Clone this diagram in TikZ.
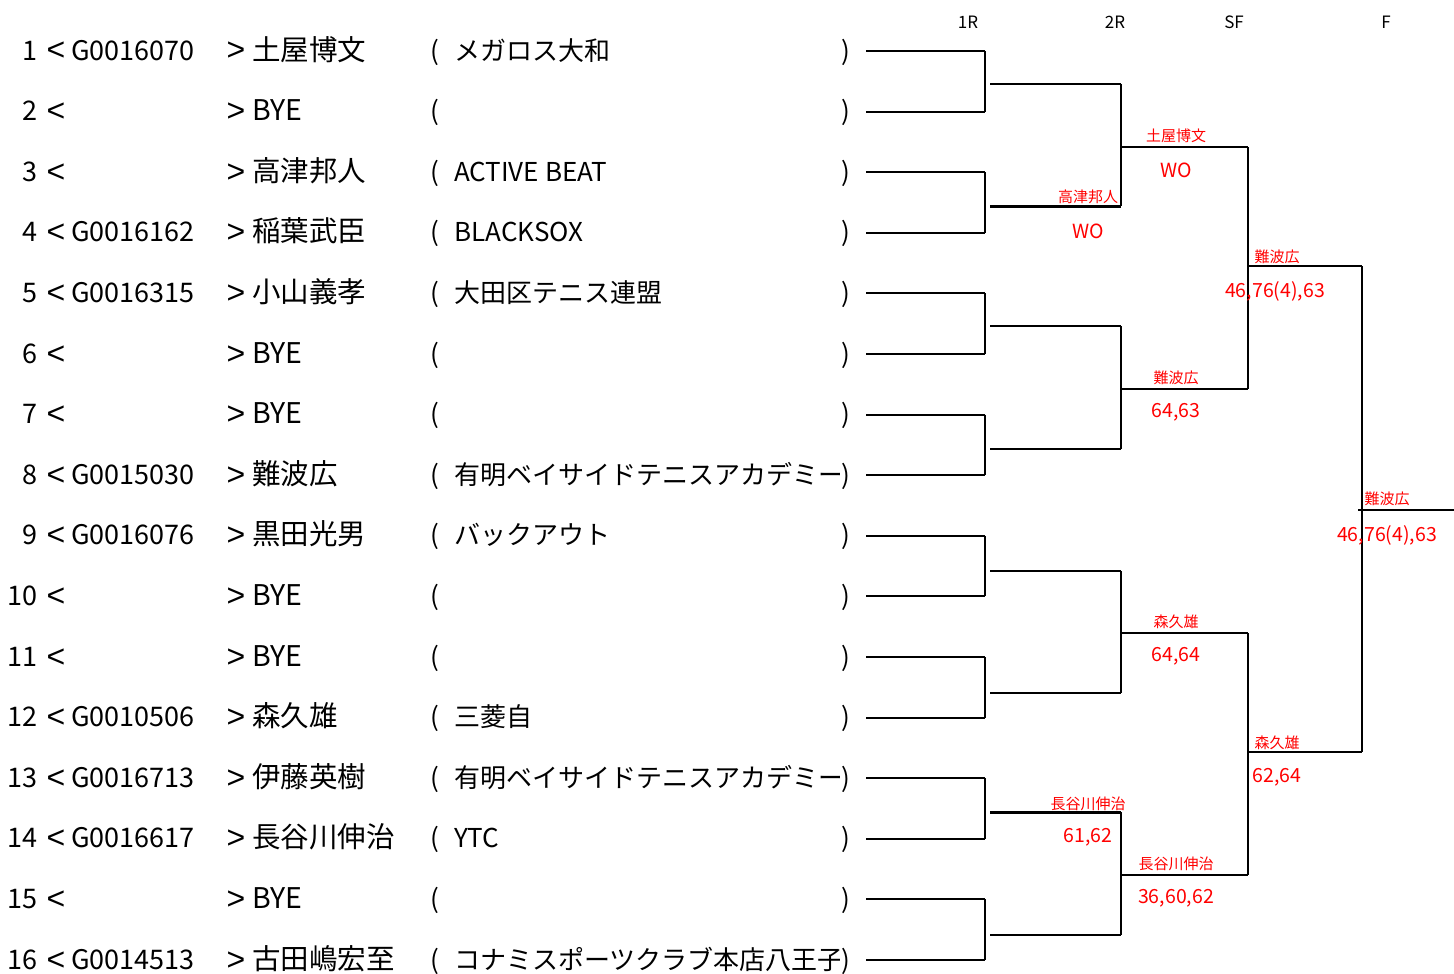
\documentclass[tikz,border=0pt]{standalone}
\usepackage{fontspec}
\setmainfont{Noto Sans CJK JP}
\newfontfamily\arialfont{Liberation Sans}

\tikzset{
entry/.style={inner sep=0pt,text depth=0pt,font=\fontsize{27}{27}\selectfont},
angle/.style={inner sep=0pt,text depth=0pt,font=\arialfont\fontsize{32}{32}\selectfont},
player/.style={inner sep=0pt,text depth=0pt,font=\fontsize{28.5}{28}\selectfont},
club/.style={inner sep=0pt,text depth=0pt,font=\fontsize{26}{26}\selectfont},
head/.style={inner sep=0pt,font=\fontsize{17}{17}\selectfont},
winner/.style={inner sep=0pt,red,font=\fontsize{15}{15}\selectfont},
score/.style={inner sep=0pt,red,font=\fontsize{19.5}{19}\selectfont},
line/.style={line width=2pt},
}

\begin{document}
\begin{tikzpicture}[x=1pt,y=-1pt]
\useasboundingbox (0,0) rectangle (1454,974);

\node[head] (h1) at (968,22) {1R};
\node[head] (h2) at (1115,22) {2R};
\node[head] (h3) at (1234,22) {SF};
\node[head] (h4) at (1386,22) {F};

\foreach \i/\id/\name/\club in {1/G0016070/土屋博文/メガロス大和,2/{}/BYE/{},3/{}/高津邦人/ACTIVE BEAT,4/G0016162/稲葉武臣/BLACKSOX,5/G0016315/小山義孝/大田区テニス連盟,6/{}/BYE/{},7/{}/BYE/{},8/G0015030/難波広/有明ベイサイドテニスアカデミー,9/G0016076/黒田光男/バックアウト,10/{}/BYE/{},11/{}/BYE/{},12/G0010506/森久雄/三菱自,13/G0016713/伊藤英樹/有明ベイサイドテニスアカデミー,14/G0016617/長谷川伸治/YTC,15/{}/BYE/{},16/G0014513/古田嶋宏至/コナミスポーツクラブ本店八王子}
{
\pgfmathsetmacro{\y}{51+(\i-1)*60.6}
\pgfmathsetmacro{\b}{\y+9}
\pgfmathsetmacro{\c}{\y+10}
\node[entry,anchor=base east] (no\i) at (38,\b) {\i};
\node[angle,anchor=base] (lt\i) at (56,\c) {<};
\node[entry,anchor=base west] (id\i) at (71,\b) {\id};
\node[angle,anchor=base] (gt\i) at (236,\c) {>};
\node[player,anchor=base west] (nm\i) at (252,\b) {\name};
\node[club,anchor=base] (lp\i) at (435,\b) {(};
\begin{scope}
\clip (440,\y-20) rectangle (839,\y+20);
\node[club,anchor=base west] (cl\i) at (454,\b) {\club};
\end{scope}
\node[club,anchor=base] (rp\i) at (846,\b) {)};
\coordinate (a\i) at (866,\y);
\coordinate (b\i) at (985,\y);
\draw[line] (a\i) -- (b\i);
}

\foreach \k/\m in {1/84,2/206,3/326,4/449,5/571,6/693,7/812,8/935}
{
\pgfmathtruncatemacro{\p}{2*\k-1}
\pgfmathtruncatemacro{\q}{2*\k}
\draw[line] (b\p) -- (b\q);
\coordinate (c\k) at (990,\m);
\coordinate (d\k) at (1121,\m);
\draw[line] (c\k) -- (d\k);
}
\draw[line width=3pt] (c2) -- (d2);
\draw[line width=3pt] (c7) -- (d7);

\foreach \k/\m in {1/147,2/389,3/633,4/875}
{
\pgfmathtruncatemacro{\p}{2*\k-1}
\pgfmathtruncatemacro{\q}{2*\k}
\draw[line] (d\p) -- (d\q);
\coordinate (e\k) at (1121,\m);
\coordinate (f\k) at (1248,\m);
\draw[line] (e\k) -- (f\k);
}

\foreach \k/\m in {1/266,2/752}
{
\pgfmathtruncatemacro{\p}{2*\k-1}
\pgfmathtruncatemacro{\q}{2*\k}
\draw[line] (f\p) -- (f\q);
\coordinate (g\k) at (1248,\m);
\coordinate (h\k) at (1362,\m);
\draw[line] (g\k) -- (h\k);
}

\draw[line] (h1) -- (h2);
\coordinate (fin) at (1358,510);
\coordinate (end) at (1454,510);
\draw[line] (fin) -- (end);

\node[winner] (w1) at (1176,136) {土屋博文};
\node[score] (s1) at (1176,170) {WO};
\node[winner] (w2) at (1088,197) {高津邦人};
\node[score] (s2) at (1088,231) {WO};
\node[winner] (w3) at (1277,257) {難波広};
\node[score] (s3) at (1275,291) {46,76(4),63};
\node[winner] (w4) at (1176,378) {難波広};
\node[score] (s4) at (1176,412) {64,63};
\node[winner] (w5) at (1387,499) {難波広};
\node[score] (s5) at (1387,535) {46,76(4),63};
\node[winner] (w6) at (1176,622) {森久雄};
\node[score] (s6) at (1176,656) {64,64};
\node[winner] (w7) at (1277,743) {森久雄};
\node[score] (s7) at (1277,777) {62,64};
\node[winner] (w8) at (1088,804) {長谷川伸治};
\node[score] (s8) at (1088,837) {61,62};
\node[winner] (w9) at (1176,864) {長谷川伸治};
\node[score] (s9) at (1176,898) {36,60,62};
\end{tikzpicture}
\end{document}
